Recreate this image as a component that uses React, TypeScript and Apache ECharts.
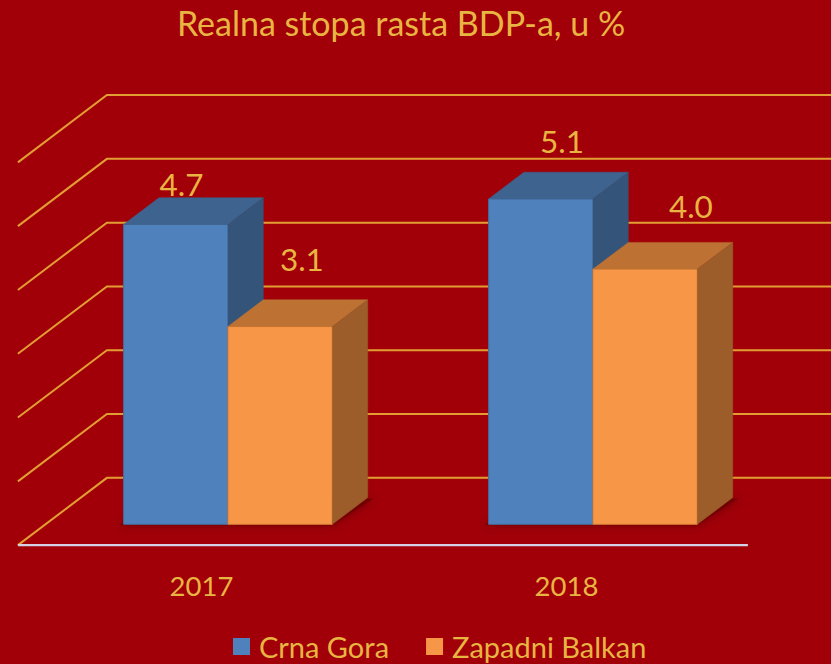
import React, { useEffect, useRef } from "react";
import * as echarts from "echarts";

const categories = ["2017", "2018"];
const seriesNames = ["Crna Gora", "Zapadni Balkan"];
const crnaGora = [4.7, 5.1];
const zapadniBalkan = [3.1, 4.0];
const gridTicks = [0, 1, 2, 3, 4, 5, 6];
const titleText = "Realna stopa rasta BDP-a, u %";

const BG = "#A10008";
const TEXT = "#E9B542";
const GRIDLINE = "#E39E33";
const FLOOR_LINE = "#D3D1E3";
const FONT = "Lato, 'Open Sans', sans-serif";

const faces = [
  { front: "#4F81BD", top: "#3F638F", side: "#34547A", stroke: "#44709F" },
  { front: "#F79646", top: "#BD7233", side: "#9C5D2A", stroke: "#D97F38" },
];

// pseudo-3D geometry
const FLOOR_DX = 89;
const FLOOR_DY = -67.3;
const PLANE_T = 0.31; // depth of the bars' front plane measured from the floor's front edge
const BAR_T = 0.397; // bar depth as a fraction of floor depth
const BAR_FRAC = 0.286; // bar width as a fraction of the category band
// label nudges relative to the centre of each bar's top face: [series][category]
const labelNudge = [
  [[-12, -27], [3.5, -45]],
  [[4, -54], [28, -50]],
];

function barGeom(api: any, cat: number, v: number, si: number) {
  const top = api.coord([cat, v]);
  const base = api.coord([cat, 0]);
  const band = api.size([1, 0])[0];
  const bw = band * BAR_FRAC;
  const x0 = top[0] - bw + si * bw;
  return { x0, x1: x0 + bw, yv: top[1], y0: base[1], bw };
}

export default function App() {
  const ref = useRef<HTMLDivElement>(null);
  useEffect(() => {
    if (!ref.current) return;
    const chart = echarts.init(ref.current, undefined, { renderer: "svg" });
    const dx = BAR_T * FLOOR_DX;
    const dy = BAR_T * FLOOR_DY;

    const frameSeries = {
      type: "custom",
      name: "frame",
      silent: true,
      clip: false,
      z: 1,
      data: gridTicks.map((v) => [0, v]),
      renderItem: (params: any, api: any) => {
        const v = api.value(1);
        const p = api.coord([0, v]);
        const cs = params.coordSys;
        const y = p[1];
        const bdx = (1 - PLANE_T) * FLOOR_DX;
        const bdy = (1 - PLANE_T) * FLOOR_DY;
        const fdx = -PLANE_T * FLOOR_DX;
        const fdy = -PLANE_T * FLOOR_DY;
        const children: any[] = [
          {
            type: "polyline",
            shape: {
              points: [
                [cs.x + fdx, y + fdy],
                [cs.x + bdx, y + bdy],
                [cs.x + cs.width + bdx + 40, y + bdy],
              ],
            },
            style: { stroke: GRIDLINE, lineWidth: 2, fill: "none" },
          },
        ];
        if (v === 0) {
          children.push({
            type: "line",
            shape: {
              x1: cs.x + fdx,
              y1: y + fdy,
              x2: cs.x + cs.width + fdx,
              y2: y + fdy,
            },
            style: { stroke: FLOOR_LINE, lineWidth: 2.2 },
          });
        }
        return { type: "group", children };
      },
    };

    const shadowSeries = {
      type: "custom",
      name: "shadow",
      silent: true,
      clip: false,
      z: 2,
      data: categories.map((_, i) => [i, Math.max(crnaGora[i], zapadniBalkan[i])]),
      renderItem: (params: any, api: any) => {
        const cat = api.value(0);
        const a = barGeom(api, cat, 0, 0);
        const b = barGeom(api, cat, 0, 1);
        const y0 = a.y0;
        return {
          type: "polygon",
          shape: {
            points: [
              [a.x0 - 4, y0 + 1],
              [b.x1, y0 + 1],
              [b.x1 + dx + 6, y0 + dy + 1],
              [a.x0 + dx, y0 + dy + 1],
            ],
          },
          style: {
            fill: "rgba(110,0,4,0.8)",
            shadowBlur: 8,
            shadowColor: "rgba(70,0,0,0.7)",
          },
        };
      },
    };

    const makeBarSeries = (si: number, values: number[]) => ({
      type: "custom",
      name: seriesNames[si],
      clip: false,
      z: 3,
      itemStyle: { color: faces[si].front },
      data: values.map((v, i) => [i, v]),
      renderItem: (params: any, api: any) => {
        const cat = api.value(0);
        const v = api.value(1);
        const g = barGeom(api, cat, v, si);
        const f = faces[si];
        const n = labelNudge[si][cat];
        const lx = g.x0 + g.bw / 2 + dx / 2 + n[0];
        const ly = g.yv + dy / 2 + n[1];
        return {
          type: "group",
          children: [
            {
              type: "rect",
              shape: { x: g.x0, y: g.yv, width: g.bw, height: g.y0 - g.yv },
              style: { fill: f.front, stroke: f.stroke, lineWidth: 1 },
            },
            {
              type: "polygon",
              shape: {
                points: [
                  [g.x0, g.yv],
                  [g.x1, g.yv],
                  [g.x1 + dx, g.yv + dy],
                  [g.x0 + dx, g.yv + dy],
                ],
              },
              style: { fill: f.top, stroke: f.top, lineWidth: 0.5 },
            },
            {
              type: "polygon",
              shape: {
                points: [
                  [g.x1, g.yv],
                  [g.x1, g.y0],
                  [g.x1 + dx, g.y0 + dy],
                  [g.x1 + dx, g.yv + dy],
                ],
              },
              style: { fill: f.side, stroke: f.side, lineWidth: 0.5 },
            },
            {
              type: "text",
              x: lx,
              y: ly,
              style: {
                text: v.toFixed(1),
                fill: TEXT,
                fontSize: 31.5,
                fontFamily: FONT,
                textAlign: "center",
                textVerticalAlign: "middle",
                align: "center",
                verticalAlign: "middle",
              },
            },
          ],
        };
      },
    });

    chart.setOption({
      animation: false,
      backgroundColor: BG,
      textStyle: { fontFamily: FONT },
      grid: { left: 45.5, top: 141.5, width: 730, height: 382.8 },
      xAxis: {
        type: "category",
        data: categories,
        axisLine: { show: false },
        axisTick: { show: false },
        splitLine: { show: false },
        axisLabel: {
          color: TEXT,
          fontSize: 27.5,
          fontFamily: FONT,
          margin: 47,
          padding: [0, 53, 0, 0],
        },
      },
      yAxis: {
        type: "value",
        min: 0,
        max: 6,
        interval: 1,
        show: false,
        splitLine: { show: false },
      },
      legend: {
        data: seriesNames,
        left: 233,
        top: 632,
        padding: 0,
        itemWidth: 17,
        itemHeight: 17,
        itemGap: 37,
        icon: "rect",
        selectedMode: false,
        textStyle: {
          color: TEXT,
          fontSize: 29,
          lineHeight: 29,
          fontFamily: FONT,
          padding: [0, 0, 0, 4],
        },
      },
      graphic: [
        {
          type: "text",
          x: 401,
          y: 22,
          style: {
            text: titleText,
            fill: TEXT,
            fontSize: 34,
            fontFamily: FONT,
            textAlign: "center",
            textVerticalAlign: "middle",
            align: "center",
            verticalAlign: "middle",
          },
        },
      ],
      series: [
        frameSeries,
        shadowSeries,
        makeBarSeries(0, crnaGora),
        makeBarSeries(1, zapadniBalkan),
      ],
    });
    return () => chart.dispose();
  }, []);
  return (
    <div
      ref={ref}
      style={{ position: "absolute", left: 0, top: 0, width: 831, height: 664 }}
    />
  );
}
